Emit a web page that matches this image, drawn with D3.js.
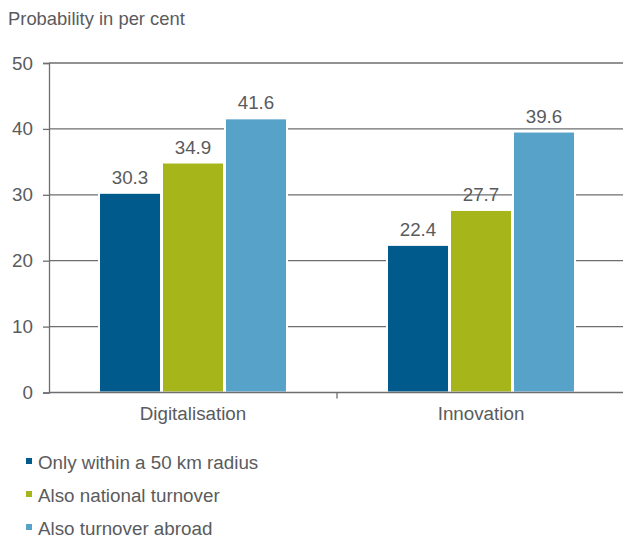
<!DOCTYPE html>
<html>
<head>
<meta charset="utf-8">
<script src="https://cdn.jsdelivr.net/npm/d3@7"></script>
<style>
  html, body { margin: 0; padding: 0; background: #fff; }
  svg { display: block; font-family: "Liberation Sans", Arial, sans-serif; }
</style>
</head>
<body>
<svg id="chart" width="623" height="540"></svg>
<script>
// Probability of digitalisation and innovation by turnover reach
const categories = ["Digitalisation", "Innovation"];
const seriesNames = ["Only within a 50 km radius", "Also national turnover", "Also turnover abroad"];
const seriesColors = ["#005a8b", "#a6b519", "#57a2c9"];
const values = [
  [30.3, 22.4],   // Only within a 50 km radius
  [34.9, 27.7],   // Also national turnover
  [41.6, 39.6]    // Also turnover abroad
];
const yTicks = [0, 10, 20, 30, 40, 50];

const svg = d3.select("#chart");
const margin = { left: 49, right: -2, top: 63, bottom: 147.5 };
const W = 623, H = 540;
const textColor = "#5a5b5d";
const lineColor = "#6d6e71";
const fs = 18.8;

const x0 = d3.scaleBand().domain(categories).range([margin.left, W - margin.right]).paddingInner(0).paddingOuter(0);
const x1 = d3.scaleBand().domain(d3.range(seriesNames.length)).range([0, 189]).padding(0);
const y = d3.scaleLinear().domain([0, 50]).range([H - margin.bottom, margin.top]);

// Title
svg.append("text").attr("x", 8).attr("y", 25)
  .attr("font-size", 18.4).attr("fill", textColor)
  .text("Probability in per cent");

// Horizontal gridlines
svg.append("g").selectAll("line").data(yTicks.filter(d => d > 0)).join("line")
  .attr("x1", margin.left).attr("x2", W)
  .attr("y1", d => y(d)).attr("y2", d => y(d))
  .attr("stroke", lineColor).attr("stroke-width", 1.3);

// Y axis
const yAxis = svg.append("g").attr("transform", `translate(${margin.left},0)`)
  .call(d3.axisLeft(y).tickValues(yTicks).tickSize(6).tickPadding(10));
yAxis.select(".domain").attr("stroke", lineColor).attr("stroke-width", 1.3);
yAxis.selectAll(".tick line").attr("stroke", lineColor).attr("stroke-width", 1.3);
yAxis.selectAll(".tick text").attr("font-size", fs).attr("fill", textColor)
  .attr("font-family", "Liberation Sans, Arial, sans-serif");

// Bars, each with a thin white outline separating it from its neighbours
const groups = svg.append("g").selectAll("g").data(categories).join("g")
  .attr("transform", c => `translate(${x0(c) + x0.bandwidth() / 2 - 94.5},0)`);

groups.each(function(c, ci) {
  const g = d3.select(this);
  seriesNames.forEach((s, si) => {
    const v = values[si][ci];
    g.append("rect")
      .attr("x", x1(si) + 0.5)
      .attr("width", x1.bandwidth() - 1)
      .attr("y", y(v))
      .attr("height", y(0) - y(v))
      .attr("fill", seriesColors[si])
      .attr("stroke", "#fff").attr("stroke-width", 2);
    g.append("text")
      .attr("x", x1(si) + x1.bandwidth() / 2)
      .attr("y", y(v) - 9)
      .attr("text-anchor", "middle")
      .attr("font-size", fs).attr("fill", textColor)
      .text(v.toFixed(1));
  });
});

// X axis
const xAxis = svg.append("g").attr("transform", `translate(0,${y(0)})`)
  .call(d3.axisBottom(x0).tickSize(0).tickPadding(14));
xAxis.select(".domain").remove();
xAxis.selectAll(".tick text").attr("font-size", fs).attr("fill", textColor)
  .attr("font-family", "Liberation Sans, Arial, sans-serif");
svg.append("line").attr("x1", margin.left).attr("x2", W)
  .attr("y1", y(0)).attr("y2", y(0))
  .attr("stroke", lineColor).attr("stroke-width", 1.3);
// Category separators
svg.append("g").selectAll("line").data(categories.slice(1)).join("line")
  .attr("x1", c => x0(c)).attr("x2", c => x0(c))
  .attr("y1", y(0)).attr("y2", y(0) + 6)
  .attr("stroke", lineColor).attr("stroke-width", 1.3);

// Legend
const legend = svg.append("g").selectAll("g").data(seriesNames).join("g")
  .attr("transform", (d, i) => `translate(26,${462 + i * 33})`);
legend.append("rect").attr("x", 0).attr("y", -4).attr("width", 6).attr("height", 6)
  .attr("fill", (d, i) => seriesColors[i]);
legend.append("text").attr("x", 12).attr("y", 0).attr("dy", "0.35em")
  .attr("font-size", fs).attr("fill", textColor)
  .text(d => d);
</script>
</body>
</html>
